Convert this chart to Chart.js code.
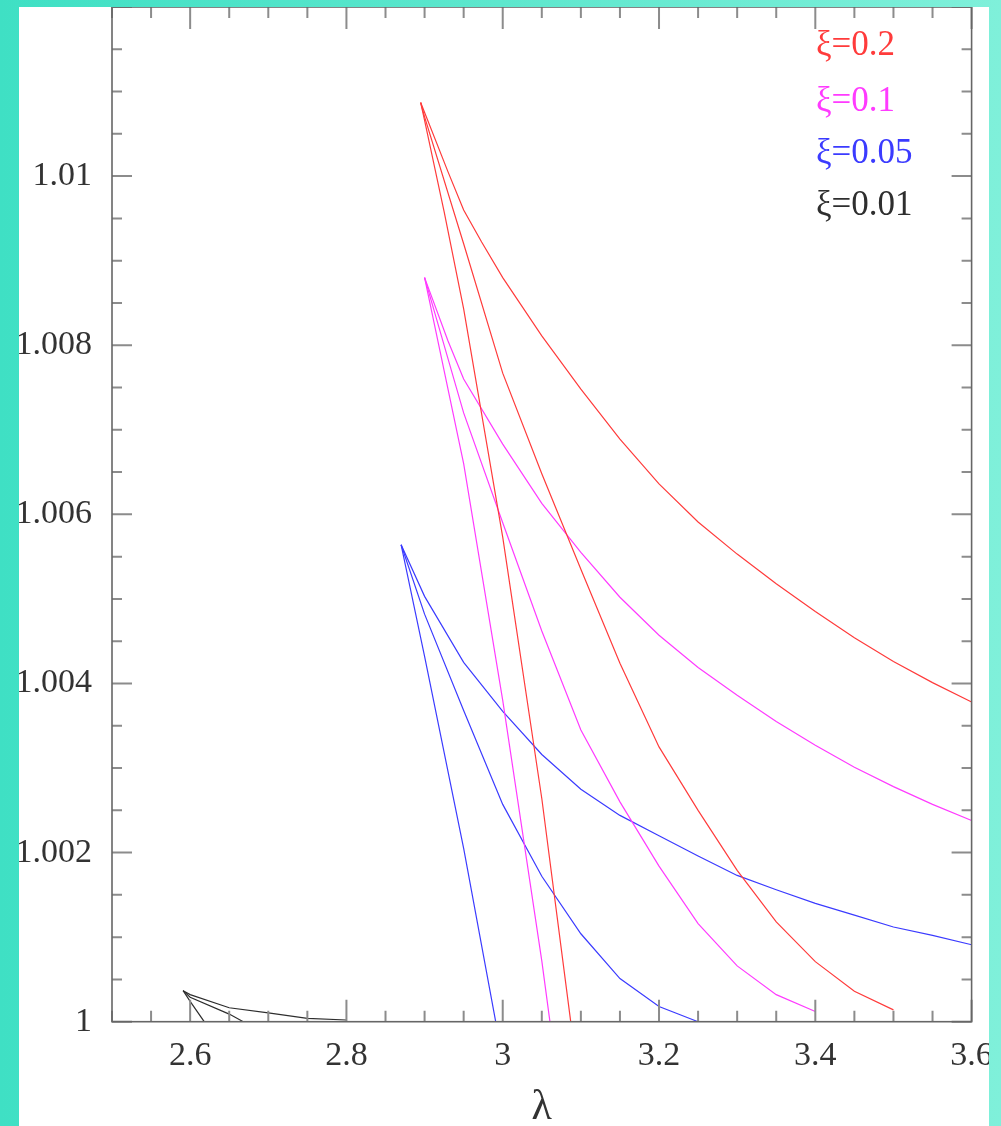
<!DOCTYPE html>
<html><head><meta charset="utf-8">
<script src="https://cdn.jsdelivr.net/npm/chart.js@4.4.1/dist/chart.umd.min.js"></script>
<style>
html,body{margin:0;padding:0;width:1001px;height:1126px;overflow:hidden;}
body{background:linear-gradient(90deg,#3fe0c4 0%,#5de7cd 50%,#7ff0da 100%);}
#panel{position:absolute;left:19px;top:7px;width:970px;height:1119px;background:#fff;overflow:hidden;}
#wrap{position:absolute;left:-19px;top:-7px;width:1001px;height:1126px;}
</style></head><body>
<div id="panel"><div id="wrap"><canvas id="c" width="1001" height="1126"></canvas></div></div>
<script>
// ---- data ----
const xTickValues = [2.6, 2.8, 3.0, 3.2, 3.4, 3.6];
const xTickLabels = ['2.6', '2.8', '3', '3.2', '3.4', '3.6'];
const yTickValues = [1.0, 1.002, 1.004, 1.006, 1.008, 1.01];
const yTickLabels = ['1', '1.002', '1.004', '1.006', '1.008', '1.01'];

const seriesLabels = ['\u03be=0.2', '\u03be=0.1', '\u03be=0.05', '\u03be=0.01'];
const seriesColors = ['#ff3b3b', '#ff3bff', '#3b3bff', '#2e2e2e'];

// xi = 0.2 (red)
const lamRedA = [2.895, 2.9, 2.925, 2.95, 3.0, 3.05, 3.087];
const valRedA = [1.01087, 1.01066, 1.00958, 1.00843, 1.00573, 1.00264, 1.0];
const lamRedB = [2.895, 2.9, 2.95, 3.0, 3.05, 3.1, 3.15, 3.2, 3.25, 3.3, 3.35, 3.4, 3.45, 3.5];
const valRedB = [1.01087, 1.0107, 1.0092, 1.00767, 1.00648, 1.00535, 1.00424, 1.00325, 1.0025, 1.00179, 1.00118, 1.00071, 1.00036, 1.00014];
const lamRedC = [2.895, 2.93, 2.95, 2.973, 3.0, 3.05, 3.1, 3.15, 3.2, 3.25, 3.3, 3.35, 3.4, 3.45, 3.5, 3.55, 3.6];
const valRedC = [1.01087, 1.01005, 1.0096, 1.00922, 1.0088, 1.00811, 1.00748, 1.00689, 1.00636, 1.00591, 1.00553, 1.00518, 1.00485, 1.00454, 1.00426, 1.00401, 1.00378];

// xi = 0.1 (magenta)
const lamMagA = [2.9, 2.95, 3.0, 3.05, 3.0604];
const valMagA = [1.0088, 1.0066, 1.0038, 1.00072, 1.0];
const lamMagB = [2.9, 2.95, 3.0, 3.05, 3.1, 3.15, 3.2, 3.25, 3.3, 3.35, 3.4];
const valMagB = [1.0088, 1.0072, 1.0059, 1.00462, 1.00345, 1.0026, 1.00184, 1.00116, 1.00066, 1.00032, 1.00012];
const lamMagC = [2.9, 2.93, 2.95, 3.0, 3.05, 3.1, 3.15, 3.2, 3.25, 3.3, 3.35, 3.4, 3.45, 3.5, 3.55, 3.6];
const valMagC = [1.0088, 1.00805, 1.0076, 1.00683, 1.00613, 1.00555, 1.00502, 1.00457, 1.00419, 1.00386, 1.00355, 1.00327, 1.00301, 1.00278, 1.00257, 1.00238];

// xi = 0.05 (blue)
const lamBluA = [2.87, 2.9, 2.95, 2.991];
const valBluA = [1.00564, 1.00432, 1.00205, 1.0];
const lamBluB = [2.87, 2.9, 2.95, 3.0, 3.05, 3.1, 3.15, 3.2, 3.25];
const valBluB = [1.00564, 1.00482, 1.00368, 1.00257, 1.00172, 1.00104, 1.00051, 1.00018, 1.0];
const lamBluC = [2.87, 2.9, 2.95, 3.0, 3.05, 3.1, 3.15, 3.2, 3.25, 3.3, 3.35, 3.4, 3.45, 3.5, 3.55, 3.6];
const valBluC = [1.00564, 1.00503, 1.00425, 1.00367, 1.00316, 1.00275, 1.00244, 1.0022, 1.00196, 1.00173, 1.00156, 1.0014, 1.00126, 1.00112, 1.00102, 1.00091];

// xi = 0.01 (black)
const lamBlkA = [2.591, 2.6, 2.618];
const valBlkA = [1.000367, 1.00024, 1.0];
const lamBlkB = [2.591, 2.6, 2.65, 2.668];
const valBlkB = [1.000367, 1.00029, 1.00009, 1.0];
const lamBlkC = [2.591, 2.6, 2.65, 2.7, 2.75, 2.8];
const valBlkC = [1.000367, 1.00032, 1.000165, 1.000105, 1.00004, 1.00002];

const branches = [
  [0, lamRedA, valRedA], [0, lamRedB, valRedB], [0, lamRedC, valRedC],
  [1, lamMagA, valMagA], [1, lamMagB, valMagB], [1, lamMagC, valMagC],
  [2, lamBluA, valBluA], [2, lamBluB, valBluB], [2, lamBluC, valBluC],
  [3, lamBlkA, valBlkA], [3, lamBlkB, valBlkB], [3, lamBlkC, valBlkC]
];

const datasets = branches.map(([s, xs, ys]) => ({
  label: seriesLabels[s],
  data: xs.map((x, i) => ({x: x, y: ys[i]})),
  showLine: true,
  borderColor: seriesColors[s],
  borderWidth: 1.2,
  pointRadius: 0,
  tension: 0,
  fill: false
}));

const SERIF = '"Liberation Serif", "DejaVu Serif", serif';

const frameTicks = {
  id: 'frameTicks',
  afterDatasetsDraw(chart) {
    const {ctx, chartArea: a, scales: {x, y}} = chart;
    ctx.save();
    ctx.strokeStyle = '#8c8c8c';
    ctx.lineWidth = 2;
    ctx.beginPath();
    for (let i = 0; i <= 22; i++) {
      const px = x.getPixelForValue(2.5 + i * 0.05);
      const L = (i % 4 === 2) ? 22 : 11;
      ctx.moveTo(px, a.bottom); ctx.lineTo(px, a.bottom - L);
      ctx.moveTo(px, a.top); ctx.lineTo(px, a.top + L);
    }
    for (let i = 0; i <= 24; i++) {
      const py = y.getPixelForValue(1 + i * 0.0005);
      const L = (i % 4 === 0) ? 20 : 10;
      ctx.moveTo(a.left, py); ctx.lineTo(a.left + L, py);
      ctx.moveTo(a.right, py); ctx.lineTo(a.right - L, py);
    }
    ctx.stroke();
    ctx.strokeStyle = '#666';
    ctx.lineWidth = 1.6;
    ctx.strokeRect(a.left, a.top, a.right - a.left, a.bottom - a.top);
    ctx.restore();
  }
};

const legendText = {
  id: 'legendText',
  afterDraw(chart, args, opts) {
    const ctx = chart.ctx;
    ctx.save();
    ctx.font = '35px ' + SERIF;
    ctx.textAlign = 'left';
    ctx.textBaseline = 'alphabetic';
    seriesLabels.forEach((t, i) => {
      ctx.fillStyle = seriesColors[i];
      ctx.fillText(t, opts.x, opts.baselines[i]);
    });
    ctx.restore();
  }
};

const noPad = s => { s.paddingTop = 0; s.paddingBottom = 0; s.paddingLeft = 0; s.paddingRight = 0; };

new Chart(document.getElementById('c').getContext('2d'), {
  type: 'scatter',
  data: {datasets},
  options: {
    responsive: false,
    animation: false,
    layout: {padding: {top: 7, right: 29.4, left: 0, bottom: 0}},
    plugins: {
      legend: {display: false},
      tooltip: {enabled: false},
      legendText: {x: 816, baselines: [55, 111, 163, 215]}
    },
    scales: {
      x: {
        type: 'linear', min: 2.5, max: 3.6,
        grid: {display: false, drawTicks: false},
        border: {display: false},
        afterBuildTicks: s => { s.ticks = xTickValues.map(v => ({value: v})); },
        afterFit: s => { s.height = 104.3; noPad(s); },
        ticks: {
          autoSkip: false, maxRotation: 0, minRotation: 0, padding: 13.5,
          font: {family: SERIF, size: 34}, color: '#333',
          callback: (v, i) => xTickLabels[i]
        },
        title: {
          display: true, text: '\u03bb', color: '#333',
          font: {family: SERIF, size: 42, lineHeight: 0.8},
          padding: {top: 0, bottom: 1}
        }
      },
      y: {
        type: 'linear', min: 1.0, max: 1.012,
        grid: {display: false, drawTicks: false},
        border: {display: false},
        afterBuildTicks: s => { s.ticks = yTickValues.map(v => ({value: v})); },
        afterFit: s => { s.width = 112; noPad(s); },
        ticks: {
          autoSkip: false, padding: 20,
          font: {family: SERIF, size: 34}, color: '#333',
          callback: (v, i) => yTickLabels[i]
        }
      }
    }
  },
  plugins: [frameTicks, legendText]
});
</script>
</body></html>
